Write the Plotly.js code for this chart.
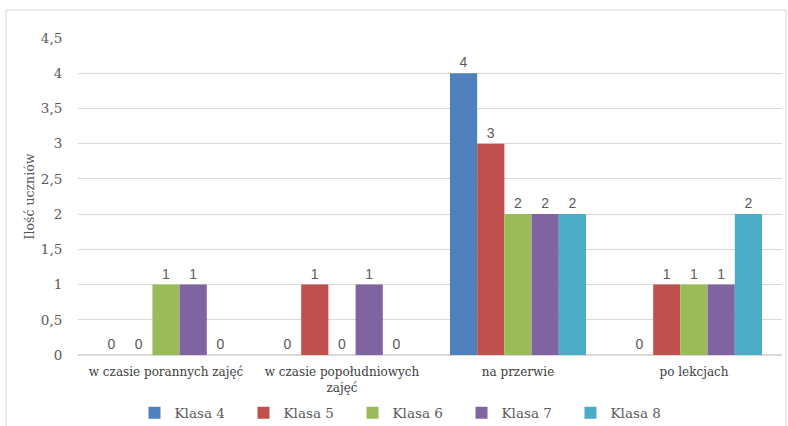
<!DOCTYPE html>
<html><head><meta charset="utf-8">
<script src="https://cdn.plot.ly/plotly-3.0.1.min.js"></script>
<style>html,body{margin:0;padding:0;background:#fff}#chart{width:788px;height:426px}</style>
</head><body><div id="chart"></div>
<script>
const categories = ["w czasie porannych zajęć", "w czasie popołudniowych<br>zajęć", "na przerwie", "po lekcjach"];
const seriesNames = ["Klasa 4", "Klasa 5", "Klasa 6", "Klasa 7", "Klasa 8"];
const klasa4 = [0, 0, 4, 0];
const klasa5 = [0, 1, 3, 1];
const klasa6 = [1, 0, 2, 1];
const klasa7 = [1, 1, 2, 1];
const klasa8 = [0, 0, 2, 2];
const colors = ["#4F81BD", "#C0504D", "#9BBB59", "#8064A2", "#4BACC6"];
const yTickVals = [0, 0.5, 1, 1.5, 2, 2.5, 3, 3.5, 4, 4.5];
const yTickText = ["0", "0,5", "1", "1,5", "2", "2,5", "3", "3,5", "4", "4,5"];

const SERIF = 'DejaVu Serif';
const SANS = 'Liberation Sans';

const allSeries = [klasa4, klasa5, klasa6, klasa7, klasa8];
const traces = allSeries.map((vals, i) => ({
  type: 'bar', name: seriesNames[i], x: categories, y: vals,
  marker: {color: colors[i]},
  text: vals.map(String), textposition: 'outside', cliponaxis: false,
  textfont: {family: SANS, size: 14, color: '#595959'},
  hoverinfo: 'none'
}));

const layout = {
  width: 788, height: 426,
  margin: {l: 78, r: 6, t: 38, b: 71, autoexpand: false},
  paper_bgcolor: '#fff', plot_bgcolor: '#fff',
  barmode: 'group', bargap: 0.227, bargroupgap: 0,
  font: {family: SERIF, color: '#595959'},
  xaxis: {
    type: 'category', tickfont: {size: 12, family: SERIF, color: '#404040'},
    showgrid: false, zeroline: false, showline: false, ticks: 'outside', ticklen: 6, tickcolor: 'rgba(0,0,0,0)',
    fixedrange: true, automargin: false
  },
  yaxis: {
    range: [0, 4.5], tickvals: yTickVals, ticktext: yTickText,
    tickfont: {size: 13.5, family: SERIF, color: '#595959'},
    gridcolor: '#D9D9D9', gridwidth: 1, zeroline: true, zerolinecolor: '#D9D9D9', zerolinewidth: 1.5,
    ticks: 'outside', ticklen: 12, tickcolor: 'rgba(0,0,0,0)',
    title: {text: 'Ilość uczniów', font: {size: 12.5, family: SERIF, color: '#595959'}, standoff: 3},
    automargin: false, fixedrange: true
  },
  showlegend: true,
  legend: {
    orientation: 'h', x: (407 - 78) / 704, xanchor: 'center', y: (355 - 413) / 317, yanchor: 'middle',
    font: {size: 13.5, family: SERIF, color: '#595959'},
    entrywidth: 64, itemwidth: 30, traceorder: 'normal'
  },
  shapes: [{
    type: 'rect', xref: 'paper', yref: 'paper',
    x0: (6 - 78) / 704, x1: (786 - 78) / 704,
    y0: (355 - 430) / 317, y1: (355 - 10) / 317,
    line: {color: '#D9D9D9', width: 1}, layer: 'below'
  }]
};
Plotly.newPlot('chart', traces, layout, {displayModeBar: false, staticPlot: true});
</script></body></html>
